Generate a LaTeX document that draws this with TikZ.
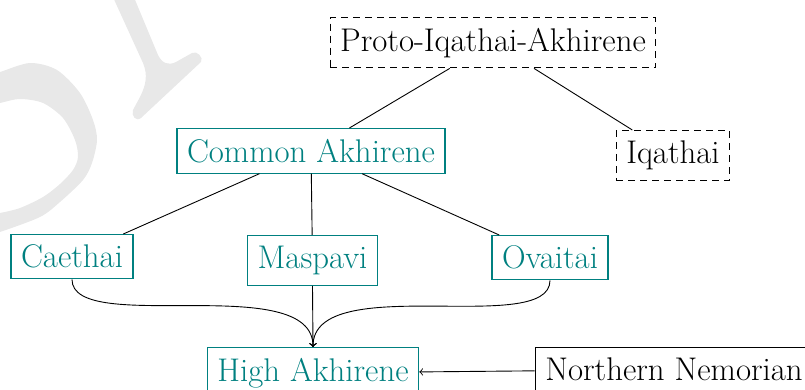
\documentclass[tikz,border=0pt]{standalone}
\begin{document}
\begin{tikzpicture}[x=0.5pt,y=-0.5pt,
  every node/.style={font=\fontsize{16.4}{19}\selectfont, inner xsep=5pt, inner ysep=5.2pt, anchor=north},
  tbox/.style={draw=teal, text=teal, line width=0.6pt},
  dbox/.style={draw=black, dash pattern=on 3.5pt off 2.5pt, line width=0.5pt},
  pbox/.style={draw=black, line width=0.6pt},
  conn/.style={line width=0.45pt},
  wm/.style={fill=black!9},
  >=to]
\useasboundingbox (0,0) rectangle (805,390);
% watermark fragments
\fill[wm] plot[smooth] coordinates {(-10,74) (0,72) (30,63) (57,70) (80,93) (93,120) (97,140) (92,163) (83,180) (60,202) (40,217) (0,232) (-10,234)}
  -- plot[smooth] coordinates {(-10,214) (0,213) (20,208) (43,197) (60,184) (73,170) (78,157) (75,140) (63,118) (43,103) (20,99) (0,103) (-10,105)} -- cycle;
\fill[wm] (112,-5) -- (143,63) .. controls (148,75) and (146,85) .. (140,97) -- (133,110)
  .. controls (131,116) and (136,122) .. (141,118) -- (201,62)
  .. controls (204,58) and (197,50) .. (192,53) -- (176,62)
  .. controls (168,66) and (162,63) .. (158,55) -- (133,-5) -- cycle;
% nodes
\node[dbox] (proto) at (493,17) {Proto-Iqathai-Akhirene};
\node[dbox] (iqathai) at (673,130) {Iqathai};
\node[tbox] (common) at (311,128) {Common Akhirene};
\node[tbox] (caethai) at (72,234) {Caethai};
\node[tbox] (maspavi) at (312.5,235) {Maspavi};
\node[tbox] (ovaitai) at (550,235) {Ovaitai};
\node[tbox] (high) at (313,347) {High Akhirene};
\node[pbox] (northern) at (674,347) {Northern Nemorian};
% connectors
\draw[conn] (proto) -- (common);
\draw[conn] (proto) -- (iqathai);
\draw[conn] (common) -- (caethai);
\draw[conn] (common) -- (maspavi);
\draw[conn] (common) -- (ovaitai);
\draw[conn,->] (caethai.south) .. controls +(0,57) and +(0,-77) .. (high.north);
\draw[conn,->] (ovaitai.south) .. controls +(0,57) and +(0,-77) .. (high.north);
\draw[conn,->] (maspavi.south) -- (high.north);
\draw[conn,->] (northern) -- (high);
\end{tikzpicture}
\end{document}
